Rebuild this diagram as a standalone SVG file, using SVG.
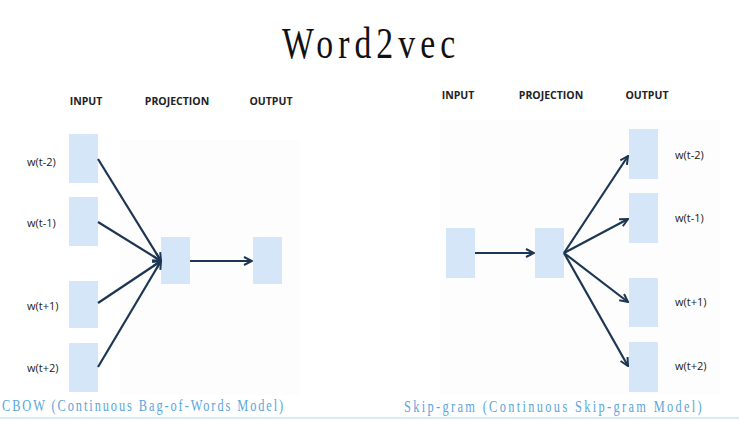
<svg xmlns="http://www.w3.org/2000/svg" width="739" height="421" viewBox="0 0 739 421">
<defs>
<marker id="ah" viewBox="0 0 10 10" refX="9" refY="5" markerWidth="10" markerHeight="10" markerUnits="userSpaceOnUse" orient="auto">
<path d="M1,1 L9,5 L1,9" fill="none" stroke="#1c3653" stroke-width="2"/>
</marker>
</defs>
<style>
.box{fill:#d5e6f8}
.hd{font-family:"Open Sans","Liberation Sans",sans-serif;font-weight:bold;font-size:10.5px;fill:#222}
.lb{font-family:"Open Sans","Liberation Sans",sans-serif;font-size:11px;fill:#222}
.cap{font-family:"Liberation Serif",serif;font-size:16.5px;fill:#5aa6dc}
.ttl{font-family:"Liberation Serif",serif;font-size:45px;fill:#111}
#connectors line{stroke:#1c3653;stroke-width:2.2;marker-end:url(#ah)}
</style>
<rect width="739" height="421" fill="#fff"/>
<rect x="120" y="140" width="180" height="255" fill="#fdfdfd"/>
<rect x="440" y="120" width="280" height="275" fill="#fdfdfd"/>
<text class="ttl" x="0" y="0" transform="translate(282,58) scale(0.75,1)" textLength="231" lengthAdjust="spacing">Word2vec</text>
<g id="cbow">
<text class="hd" x="86" y="105" text-anchor="middle">INPUT</text>
<text class="hd" x="177" y="105" text-anchor="middle">PROJECTION</text>
<text class="hd" x="271" y="105" text-anchor="middle">OUTPUT</text>
<g id="cbow-in1"><rect class="box" x="69" y="134" width="29" height="49"/><text class="lb" x="27" y="166">w(t-2)</text></g>
<g id="cbow-in2"><rect class="box" x="69" y="197" width="29" height="49"/><text class="lb" x="27" y="227">w(t-1)</text></g>
<g id="cbow-in3"><rect class="box" x="69" y="281" width="29" height="47"/><text class="lb" x="27" y="310">w(t+1)</text></g>
<g id="cbow-in4"><rect class="box" x="69" y="343" width="29" height="49"/><text class="lb" x="27" y="372">w(t+2)</text></g>
<g id="cbow-proj"><rect class="box" x="161" y="237" width="29" height="47"/></g>
<g id="cbow-out"><rect class="box" x="253" y="237" width="29" height="47"/></g>
</g>
<g id="skipgram">
<text class="hd" x="458" y="99" text-anchor="middle">INPUT</text>
<text class="hd" x="551" y="99" text-anchor="middle">PROJECTION</text>
<text class="hd" x="647" y="99" text-anchor="middle">OUTPUT</text>
<g id="sg-in"><rect class="box" x="446" y="228" width="29" height="50"/></g>
<g id="sg-proj"><rect class="box" x="535" y="228" width="29" height="50"/></g>
<g id="sg-out1"><rect class="box" x="629" y="129" width="29" height="50"/><text class="lb" x="675" y="159">w(t-2)</text></g>
<g id="sg-out2"><rect class="box" x="629" y="193" width="29" height="50"/><text class="lb" x="675" y="222">w(t-1)</text></g>
<g id="sg-out3"><rect class="box" x="629" y="278" width="29" height="49"/><text class="lb" x="675" y="306">w(t+1)</text></g>
<g id="sg-out4"><rect class="box" x="629" y="342" width="29" height="50"/><text class="lb" x="675" y="370">w(t+2)</text></g>
</g>
<g id="connectors">
<line x1="98" y1="159" x2="161" y2="261"/>
<line x1="98" y1="222" x2="161" y2="261"/>
<line x1="98" y1="303" x2="161" y2="261"/>
<line x1="98" y1="367" x2="161" y2="261"/>
<line x1="190" y1="261" x2="252" y2="261"/>
<line x1="475" y1="253" x2="534" y2="253"/>
<line x1="564" y1="253" x2="628" y2="156"/>
<line x1="564" y1="253" x2="628" y2="219"/>
<line x1="564" y1="253" x2="628" y2="302"/>
<line x1="564" y1="253" x2="628" y2="366"/>
</g>
<text class="cap" x="0" y="0" transform="translate(2,411) scale(0.75,1)" textLength="375" lengthAdjust="spacing">CBOW (Continuous Bag-of-Words Model)</text>
<text class="cap" x="0" y="0" transform="translate(404,412) scale(0.75,1)" textLength="397" lengthAdjust="spacing">Skip-gram (Continuous Skip-gram Model)</text>
<line x1="0" y1="418" x2="739" y2="418" stroke="#cfe4f2" stroke-width="1.5"/>
</svg>
